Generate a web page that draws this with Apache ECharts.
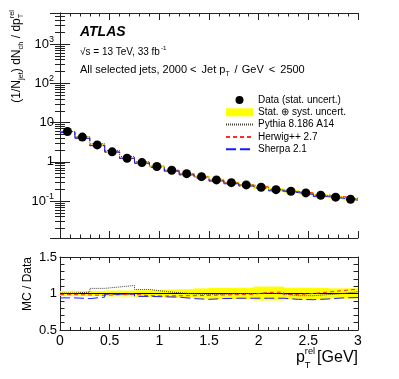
<!DOCTYPE html>
<html><head><meta charset="utf-8">
<script src="https://cdn.jsdelivr.net/npm/echarts@6/dist/echarts.min.js"></script>
<style>html,body{margin:0;padding:0;background:#fff}#c{width:399px;height:379px}</style>
</head><body><div id="c"></div>
<script>
// ---------------- data ----------------
const binEdges = [0, 0.15, 0.3, 0.45, 0.6, 0.75, 0.9, 1.05, 1.2, 1.35, 1.5, 1.65, 1.8, 1.95, 2.1, 2.25, 2.4, 2.55, 2.7, 2.85, 3.0];
const dataValues = [5.93, 4.27, 2.71, 1.80, 1.24, 0.96, 0.76, 0.61, 0.50, 0.42, 0.347, 0.296, 0.259, 0.226, 0.196, 0.179, 0.162, 0.141, 0.126, 0.112];
const relUncert = [0.035, 0.035, 0.035, 0.04, 0.04, 0.045, 0.05, 0.055, 0.06, 0.07, 0.075, 0.075, 0.08, 0.095, 0.095, 0.08, 0.08, 0.075, 0.07, 0.07];
const ratioPythia = [1.005, 1.02, 1.07, 1.09, 1.11, 1.055, 1.03, 1.01, 0.995, 0.99, 0.99, 1.0, 1.0, 1.005, 0.995, 0.97, 0.97, 0.985, 1.0, 1.025];
const ratioHerwig = [0.985, 0.98, 0.975, 0.985, 0.99, 0.97, 0.965, 0.97, 0.97, 0.975, 0.98, 0.985, 0.99, 1.015, 1.02, 0.985, 1.0, 1.02, 1.04, 1.06];
const ratioSherpa = [0.94, 0.93, 0.95, 0.99, 0.995, 0.96, 0.955, 0.95, 0.93, 0.92, 0.93, 0.935, 0.935, 0.935, 0.935, 0.92, 0.915, 0.925, 0.94, 0.945];
const seriesNames = ['Data (stat. uncert.)', 'Stat. \u2295 syst. uncert.', 'Pythia 8.186 A14', 'Herwig++ 2.7', 'Sherpa 2.1'];
const Y_MIN = 0.0115, Y_MAX = 6200;

// ---------------- helpers ----------------
const FONT = '"Liberation Sans", Arial, sans-serif';
const centers = dataValues.map((_, i) => (binEdges[i] + binEdges[i + 1]) / 2);
function stepData(vals) {
  const d = vals.map((v, i) => [binEdges[i], v]);
  d.push([binEdges[binEdges.length - 1], vals[vals.length - 1]]);
  return d;
}
const mcTop = r => dataValues.map((v, i) => v * r[i]);
const bandTop = dataValues.map((v, i) => [binEdges[i], binEdges[i + 1], v * (1 - relUncert[i]), v * (1 + relUncert[i])]);
const bandRatio = relUncert.map((u, i) => [binEdges[i], binEdges[i + 1], 1 - u, 1 + u]);
function bandRender(params, api) {
  const p0 = api.coord([api.value(0), api.value(3)]);
  const p1 = api.coord([api.value(1), api.value(2)]);
  return { type: 'rect', shape: { x: p0[0] - 0.3, y: p0[1], width: p1[0] - p0[0] + 0.6, height: p1[1] - p0[1] },
    style: { fill: '#ffff00' } };
}
const mctx = document.createElement('canvas').getContext('2d');
function tw(t, size, pre) { mctx.font = (pre || '') + ' ' + size + 'px "Liberation Sans"'; return mctx.measureText(t).width; }
function formula(parts, size, o) {
  o = o || {};
  const ss = size * (o.scriptScale || 0.62);
  const supDy = -size * (o.supShift || 0.42), subDy = size * (o.subShift || 0.34);
  let x = 0; const kids = [];
  const mk = (t, s, dx, dy) => kids.push({ type: 'text', x: dx, y: dy, silent: true,
    style: { text: t, font: s + 'px "Liberation Sans"', fill: '#000', verticalAlign: 'middle', align: 'left' } });
  parts.forEach(p => {
    if (typeof p === 'string') { mk(p, size, x, 0); x += tw(p, size); }
    else if (typeof p === 'number') { x += p; }
    else if (p.sub) { mk(p.sub, ss, x, subDy); x += tw(p.sub, ss); }
    else if (p.sup) { mk(p.sup, ss, x + 1, supDy); x += tw(p.sup, ss) + 1; }
    else if (p.stack) { mk(p.stack[0], ss, x, supDy); mk(p.stack[1], ss, x, subDy); x += Math.max(tw(p.stack[0], ss), tw(p.stack[1], ss)); }
  });
  return { kids, width: x };
}

// ---------------- axes ----------------
const AX = '#222';
function xAx(grid, pos, showLabel, tickLen) {
  return { gridIndex: grid, type: 'value', min: 0, max: 3, interval: 0.5, position: pos,
    axisLine: { show: true, onZero: false, lineStyle: { color: AX, width: 1 } },
    axisTick: { show: true, inside: true, length: tickLen, lineStyle: { color: AX } },
    minorTick: { show: true, splitNumber: 5, length: tickLen / 2, lineStyle: { color: AX } },
    splitLine: { show: false },
    axisLabel: { show: showLabel, fontSize: 14, fontFamily: FONT, color: '#000', margin: 4,
      formatter: v => String(v) } };
}
function logLabel(v) {
  const e = Math.round(Math.log10(v));
  if (e === 0) return '1';
  if (e === 1) return '10';
  return '10{sup|' + (e < 0 ? '-' + (-e) : e) + '}';
}
function yLogAx(pos, showLabel) {
  return { gridIndex: 0, type: 'log', logBase: 10, min: Y_MIN, max: Y_MAX, position: pos,
    axisLine: { show: true, lineStyle: { color: AX, width: 1 } },
    axisTick: { show: true, inside: true, length: 10, lineStyle: { color: AX } },
    minorTick: { show: true, splitNumber: 9, length: 5, lineStyle: { color: AX } },
    splitLine: { show: false },
    axisLabel: { show: showLabel, fontSize: 13, fontFamily: FONT, color: '#000', margin: 6,
      showMinLabel: false, showMaxLabel: false, formatter: logLabel,
      rich: { sup: { fontSize: 9, fontFamily: FONT, color: '#000', padding: [0, 0, 9, 0] } } } };
}
function yRatioAx(pos, showLabel) {
  return { gridIndex: 1, type: 'value', min: 0.5, max: 1.5, interval: 0.5, position: pos,
    axisLine: { show: true, onZero: false, lineStyle: { color: AX, width: 1 } },
    axisTick: { show: true, inside: true, length: 8, lineStyle: { color: AX } },
    minorTick: { show: true, splitNumber: 5, length: 4.5, lineStyle: { color: AX } },
    splitLine: { show: false },
    axisLabel: { show: showLabel, fontSize: 13, fontFamily: FONT, color: '#000', margin: 3,
      formatter: v => String(v) } };
}

// ---------------- series ----------------
const mcStyles = [
  { name: seriesNames[2], r: ratioPythia, color: '#444444', type: [1, 1] },
  { name: seriesNames[3], r: ratioHerwig, color: '#ff2a2a', type: [4, 3] },
  { name: seriesNames[4], r: ratioSherpa, color: '#1a1aff', type: [10, 4] }
];
function lineSeries(m, data, xi, yi) {
  return { type: 'line', name: m.name, xAxisIndex: xi, yAxisIndex: yi, data, step: 'end', symbol: 'none',
    showSymbol: false, silent: true, z: 3, clip: true,
    lineStyle: { color: m.color, width: 1, type: m.type }, itemStyle: { color: m.color } };
}
const series = [
  { type: 'custom', name: seriesNames[1], xAxisIndex: 0, yAxisIndex: 0, data: bandTop, renderItem: bandRender,
    encode: { x: [0, 1], y: [2, 3] }, itemStyle: { color: '#ffff00' }, z: 1, silent: true, clip: true },
  ...mcStyles.map(m => lineSeries(m, stepData(mcTop(m.r)), 0, 0)),
  { type: 'scatter', name: seriesNames[0], xAxisIndex: 0, yAxisIndex: 0, data: centers.map((c, i) => [c, dataValues[i]]),
    symbol: 'circle', symbolSize: 9, itemStyle: { color: '#000', opacity: 1 }, z: 5, silent: true },
  { type: 'custom', name: seriesNames[1], xAxisIndex: 2, yAxisIndex: 2, data: bandRatio, renderItem: bandRender,
    encode: { x: [0, 1], y: [2, 3] }, itemStyle: { color: '#ffff00' }, z: 1, silent: true, clip: true },
  { type: 'line', name: 'unity', xAxisIndex: 2, yAxisIndex: 2, data: [[0, 1], [3, 1]], symbol: 'none', silent: true, z: 2,
    lineStyle: { color: '#000', width: 1.2 } },
  ...mcStyles.map(m => lineSeries(m, stepData(m.r), 2, 2))
];

// ---------------- texts ----------------
const yTitle = formula(['(1/N', { sub: 'jet' }, ') dN', { sub: 'ch' }, ' / dp', { stack: ['rel', 'T'] }], 12);
const xTitle = formula(['p', { stack: ['rel', 'T'] }, 2, '[GeV]'], 16, { scriptScale: 0.58, supShift: 0.38, subShift: 0.45 });
const sLine = formula(['\u221As = 13 TeV, 33 fb', { sup: '-1' }], 10);
const jLine = formula(['All selected jets, 2000 <', 2, ' Jet p', { sub: 'T' }, 2, ' /', 1, ' GeV', 2, ' <', 2, ' 2500'], 11);

const graphic = [
  { type: 'text', x: 80, y: 32, silent: true, style: { text: 'ATLAS', font: 'italic bold 14px "Liberation Sans"', fill: '#000', verticalAlign: 'middle' } },
  { type: 'group', x: 80, y: 52, children: sLine.kids },
  { type: 'group', x: 80, y: 70, children: jLine.kids },
  { type: 'group', x: 17, y: 10 + yTitle.width, rotation: Math.PI / 2, children: yTitle.kids },
  { type: 'group', x: 358 - xTitle.width, y: 358, children: xTitle.kids },
  { type: 'text', x: 28, y: 284, rotation: Math.PI / 2, silent: true,
    style: { text: 'MC / Data', font: '12px "Liberation Sans"', fill: '#000', align: 'center', verticalAlign: 'middle' } }
];

const lineLegend = n => ({ name: n, itemStyle: { opacity: 0 } });
const chart = echarts.init(document.getElementById('c'), null, { renderer: 'canvas' });
chart.setOption({
  animation: false,
  backgroundColor: '#fff',
  grid: [
    { left: 60, right: 41, top: 13, height: 225, containLabel: false },
    { left: 60, right: 41, top: 257, height: 73, containLabel: false }
  ],
  xAxis: [xAx(0, 'bottom', false, 7), xAx(0, 'top', false, 7), xAx(1, 'bottom', true, 6), xAx(1, 'top', false, 6)],
  yAxis: [yLogAx('left', true), yLogAx('right', false), yRatioAx('left', true), yRatioAx('right', false)],
  legend: {
    left: 225, top: 95, padding: 0, orient: 'vertical', itemWidth: 27, itemHeight: 8, itemGap: 2.3, selectedMode: false,
    textStyle: { fontSize: 10, fontFamily: FONT, color: '#000' },
    data: [
      { name: seriesNames[0], icon: 'circle', itemStyle: { color: '#000', opacity: 1 } },
      { name: seriesNames[1], icon: 'rect', itemStyle: { color: '#ffff00' } },
      lineLegend(seriesNames[2]), lineLegend(seriesNames[3]), lineLegend(seriesNames[4])
    ]
  },
  graphic,
  series
});
</script></body></html>
